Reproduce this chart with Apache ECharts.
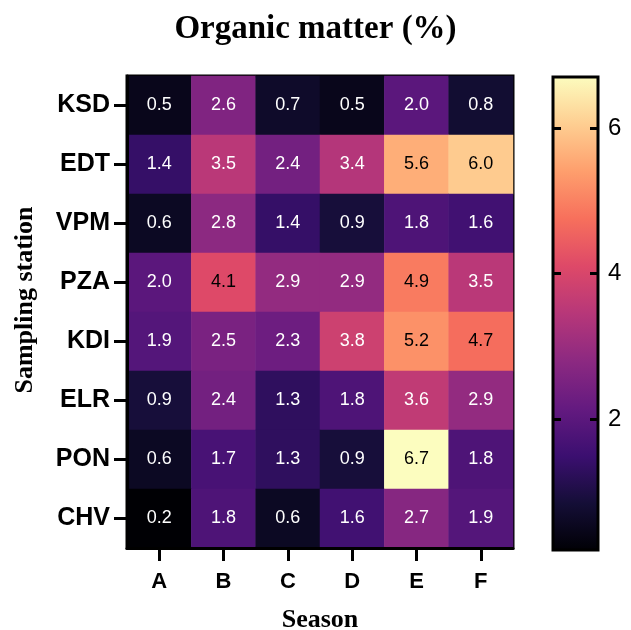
<!DOCTYPE html>
<html>
<head>
<meta charset="utf-8">
<script src="https://cdn.jsdelivr.net/npm/echarts@6/dist/echarts.min.js"></script>
<style>
  html, body { margin: 0; padding: 0; background: #fff; }
  #chart { width: 631px; height: 630px; }
</style>
</head>
<body>
<div id="chart"></div>
<script>
// Seasons (columns) and sampling stations (rows, top to bottom)
const seasons = ['A', 'B', 'C', 'D', 'E', 'F'];
const stations = ['KSD', 'EDT', 'VPM', 'PZA', 'KDI', 'ELR', 'PON', 'CHV'];

// Organic matter (%) per station, one value per season
const KSD = [0.5, 2.6, 0.7, 0.5, 2.0, 0.8];
const EDT = [1.4, 3.5, 2.4, 3.4, 5.6, 6.0];
const VPM = [0.6, 2.8, 1.4, 0.9, 1.8, 1.6];
const PZA = [2.0, 4.1, 2.9, 2.9, 4.9, 3.5];
const KDI = [1.9, 2.5, 2.3, 3.8, 5.2, 4.7];
const ELR = [0.9, 2.4, 1.3, 1.8, 3.6, 2.9];
const PON = [0.6, 1.7, 1.3, 0.9, 6.7, 1.8];
const CHV = [0.2, 1.8, 0.6, 1.6, 2.7, 1.9];

// Colour scale range and colour-bar ticks
const scaleMin = 0.2;
const scaleMax = 6.7;
const colorbarTicks = [2, 4, 6];

// Magma colour ramp
const magma = ['#000004', '#140e36', '#3b0f70', '#641a80', '#8c2981', '#b73779',
               '#de4968', '#f7705c', '#fe9f6d', '#fecf92', '#fcfdbf'];

const rows = [KSD, EDT, VPM, PZA, KDI, ELR, PON, CHV];
const cells = [];
rows.forEach((vals, r) => {
  vals.forEach((v, c) => {
    cells.push({
      value: [c, r, v],
      label: { color: v >= 4 ? '#000000' : '#ffffff' }
    });
  });
});

const serif = '"Liberation Serif", "Times New Roman", serif';
const sans = '"Liberation Sans", Arial, sans-serif';

const chart = echarts.init(document.getElementById('chart'), null, { renderer: 'canvas' });

chart.setOption({
  backgroundColor: '#ffffff',
  animation: false,
  title: {
    text: 'Organic matter (%)',
    left: 'center',
    top: 8,
    textStyle: { fontFamily: serif, fontWeight: 'bold', fontSize: 33, color: '#000' }
  },
  grid: [
    { left: 127, top: 76, width: 386, height: 472, show: true, borderColor: '#000', borderWidth: 3,
      containLabel: false, outerBoundsMode: 'none' },
    { left: 553, top: 77, width: 45, height: 473, show: false, containLabel: false, outerBoundsMode: 'none' }
  ],
  xAxis: [
    {
      gridIndex: 0,
      type: 'category',
      data: seasons,
      position: 'bottom',
      z: 10,
      name: 'Season',
      nameLocation: 'middle',
      nameGap: 59,
      nameTextStyle: { fontFamily: serif, fontWeight: 'bold', fontSize: 26, color: '#000' },
      axisLine: { show: true, lineStyle: { color: '#000', width: 3 } },
      axisTick: { show: true, alignWithLabel: true, length: 13, lineStyle: { color: '#000', width: 3 } },
      axisLabel: { margin: 23, fontFamily: sans, fontWeight: 'bold', fontSize: 22, color: '#000' },
      splitLine: { show: false }
    },
    {
      gridIndex: 1,
      type: 'value',
      min: 0,
      max: 1,
      show: false
    }
  ],
  yAxis: [
    {
      gridIndex: 0,
      type: 'category',
      data: stations,
      inverse: true,
      z: 10,
      name: 'Sampling station',
      nameLocation: 'middle',
      nameGap: 89,
      nameTextStyle: {
        fontFamily: serif, fontWeight: 'bold', fontSize: 26, color: '#000',
        padding: [0, 0, 0, 24]
      },
      axisLine: { show: true, lineStyle: { color: '#000', width: 3 } },
      axisTick: { show: true, alignWithLabel: true, length: 13, lineStyle: { color: '#000', width: 3 } },
      axisLabel: { margin: 17, fontFamily: sans, fontWeight: 'bold', fontSize: 25, color: '#000' },
      splitLine: { show: false }
    },
    {
      gridIndex: 1,
      type: 'value',
      min: scaleMin,
      max: scaleMax,
      position: 'left',
      z: 10,
      axisLine: { show: false },
      axisTick: { show: true, inside: true, length: 8, customValues: colorbarTicks, lineStyle: { color: '#000', width: 3 } },
      axisLabel: { show: false },
      splitLine: { show: false }
    },
    {
      gridIndex: 1,
      type: 'value',
      min: scaleMin,
      max: scaleMax,
      position: 'right',
      z: 10,
      axisLine: { show: false },
      axisTick: { show: true, inside: true, length: 8, customValues: colorbarTicks, lineStyle: { color: '#000', width: 3 } },
      axisLabel: {
        show: true, margin: 10, customValues: colorbarTicks, verticalAlign: 'middle',
        fontFamily: sans, fontSize: 24, color: '#000'
      },
      splitLine: { show: false }
    }
  ],
  visualMap: {
    show: false,
    type: 'continuous',
    seriesIndex: 0,
    dimension: 2,
    min: scaleMin,
    max: scaleMax,
    inRange: { color: magma }
  },
  series: [
    {
      type: 'heatmap',
      xAxisIndex: 0,
      yAxisIndex: 0,
      data: cells,
      label: {
        show: true,
        fontFamily: sans,
        fontSize: 18,
        formatter: p => p.value[2].toFixed(1)
      },
      itemStyle: { borderWidth: 0 },
      emphasis: { disabled: true }
    },
    {
      // colour bar: one gradient rectangle spanning the scale, with a black frame
      type: 'custom',
      xAxisIndex: 1,
      yAxisIndex: 1,
      silent: true,
      z: 1,
      data: [[0, scaleMin, 1, scaleMax]],
      renderItem: (params, api) => {
        const p0 = api.coord([api.value(0), api.value(1)]);
        const p1 = api.coord([api.value(2), api.value(3)]);
        return {
          type: 'rect',
          shape: { x: p0[0], y: p1[1], width: p1[0] - p0[0], height: p0[1] - p1[1] },
          style: {
            fill: {
              type: 'linear', x: 0, y: 1, x2: 0, y2: 0,
              colorStops: magma.map((c, i) => ({ offset: i / (magma.length - 1), color: c }))
            },
            stroke: '#000',
            lineWidth: 3
          }
        };
      }
    }
  ]
});
</script>
</body>
</html>
